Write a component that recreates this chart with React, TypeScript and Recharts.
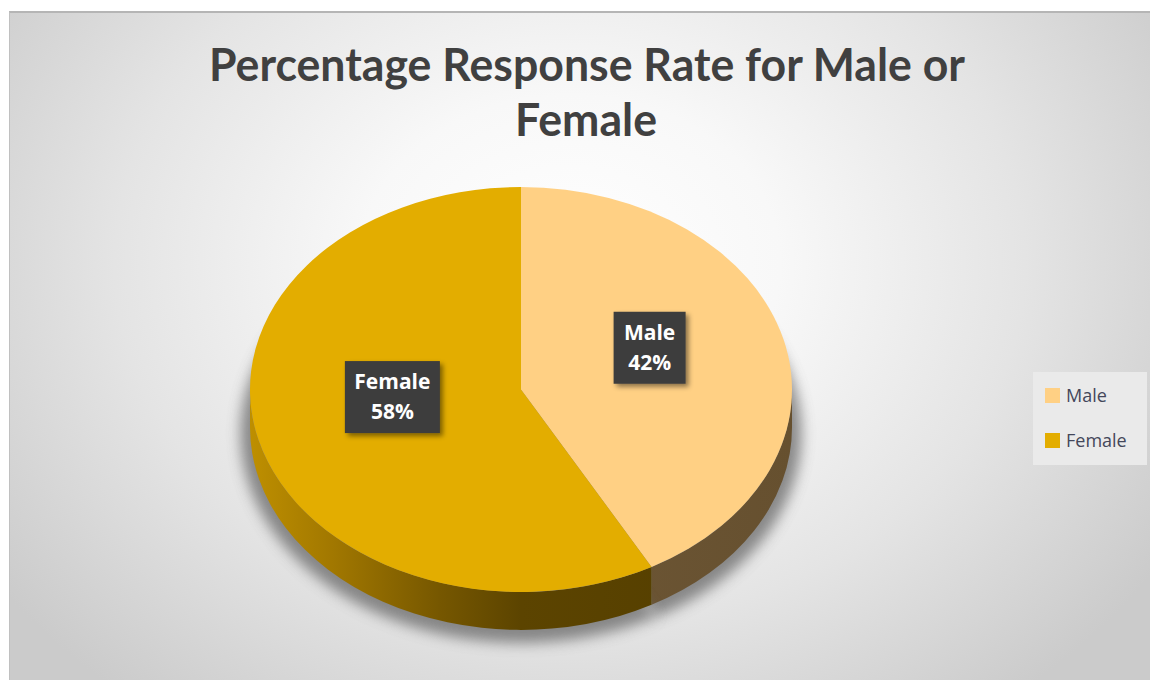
import React from 'react';
import { PieChart, Pie, Cell, Legend } from 'recharts';

const CATEGORIES = ['Male', 'Female'];
const VALUES = [42, 58];
const TITLE_LINES = ['Percentage Response Rate for Male or', 'Female'];

const TOP_COLORS = ['#FFD084', '#E3AD00'];
const SIDE_FILLS = ['url(#sideMale)', 'url(#sideFemale)'];

const data = CATEGORIES.map((name, i) => ({ name, value: VALUES[i] }));

const K = 0.747; // vertical squash of the pie (tilt)
const DEPTH_RATIO = 0.14; // thickness relative to radius
const RAD = Math.PI / 180;

function pt(cx: number, cy: number, rx: number, ry: number, a: number, dy = 0) {
  return [cx + rx * Math.cos(-a * RAD), cy + ry * Math.sin(-a * RAD) + dy];
}

function TopShape(props: any) {
  const { cx, cy, outerRadius, startAngle, endAngle, fill } = props;
  const rx = outerRadius;
  const ry = outerRadius * K;
  const [x1, y1] = pt(cx, cy, rx, ry, startAngle);
  const [x2, y2] = pt(cx, cy, rx, ry, endAngle);
  const large = Math.abs(endAngle - startAngle) > 180 ? 1 : 0;
  const sweep = endAngle < startAngle ? 1 : 0;
  const d = `M${cx},${cy} L${x1},${y1} A${rx},${ry} 0 ${large} ${sweep} ${x2},${y2} Z`;
  return <path d={d} fill={fill} stroke="none" />;
}

function SideShape(props: any) {
  const { cx, cy, outerRadius, startAngle, endAngle, fill } = props;
  const rx = outerRadius;
  const ry = outerRadius * K;
  const depth = outerRadius * DEPTH_RATIO;
  const hi = Math.max(startAngle, endAngle);
  const lo = Math.min(startAngle, endAngle);
  const parts: any[] = [];
  [0, -360, 360].forEach((k) => {
    const a1 = Math.min(hi, 0 + k);
    const a2 = Math.max(lo, -180 + k);
    if (a1 > a2) {
      const [px1, py1] = pt(cx, cy, rx, ry, a1);
      const [px2, py2] = pt(cx, cy, rx, ry, a2);
      const large = a1 - a2 > 180 ? 1 : 0;
      const d = `M${px1},${py1} A${rx},${ry} 0 ${large} 1 ${px2},${py2} L${px2},${py2 + depth} A${rx},${ry} 0 ${large} 0 ${px1},${py1 + depth} Z`;
      parts.push(d);
    }
  });
  // soft shadow derived from the sector
  const srx = rx * 1.035;
  const sry = ry * 1.035;
  const off = depth + 6;
  const [sx1, sy1] = pt(cx, cy, srx, sry, startAngle, off);
  const [sx2, sy2] = pt(cx, cy, srx, sry, endAngle, off);
  const largeS = Math.abs(endAngle - startAngle) > 180 ? 1 : 0;
  const shadowD = `M${cx},${cy + off} L${sx1},${sy1} A${srx},${sry} 0 ${largeS} 1 ${sx2},${sy2} Z`;
  return (
    <g>
      <defs>
        <filter id="pieShadow" x="-20%" y="-20%" width="140%" height="140%">
          <feGaussianBlur stdDeviation="7" />
        </filter>
        <linearGradient id="sideFemale" gradientUnits="userSpaceOnUse" x1={cx - rx} y1={0} x2={cx + rx} y2={0}>
          <stop offset="0" stopColor="#BE8F00" />
          <stop offset="0.15" stopColor="#A27800" />
          <stop offset="0.35" stopColor="#765700" />
          <stop offset="0.5" stopColor="#5C4400" />
          <stop offset="1" stopColor="#523D00" />
        </linearGradient>
        <linearGradient id="sideMale" gradientUnits="userSpaceOnUse" x1={cx} y1={0} x2={cx + rx} y2={0}>
          <stop offset="0" stopColor="#6E5736" />
          <stop offset="1" stopColor="#66502F" />
        </linearGradient>
      </defs>
      <path d={shadowD} fill="#666666" opacity={0.75} filter="url(#pieShadow)" />
      {parts.map((d, i) => (
        <path key={i} d={d} fill={fill} stroke="none" />
      ))}
    </g>
  );
}

function renderLabel(props: any) {
  const { cx, cy, midAngle, outerRadius, name, percent } = props;
  const rx = outerRadius;
  const ry = outerRadius * K;
  const f = 0.49;
  const x = cx + rx * f * Math.cos(-midAngle * RAD);
  const y = cy + ry * f * Math.sin(-midAngle * RAD) - outerRadius * 0.063;
  const w = String(name).length * 11.5 + 26;
  const h = 72;
  const pct = `${Math.round(percent * 100)}%`;
  return (
    <g>
      <defs>
        <filter id="lblShadow" x="-30%" y="-30%" width="160%" height="160%">
          <feDropShadow dx="3" dy="3" stdDeviation="2.5" floodColor="#000" floodOpacity="0.45" />
        </filter>
      </defs>
      <rect x={x - w / 2} y={y - h / 2} width={w} height={h} fill="#3C3C3C" filter="url(#lblShadow)" />
      <text textAnchor="middle" fill="#ffffff" fontFamily="'Open Sans', sans-serif" fontWeight={700} fontSize={21}>
        <tspan x={x} y={y - 8}>{name}</tspan>
        <tspan x={x} y={y + 22}>{pct}</tspan>
      </text>
    </g>
  );
}

function LegendContent(props: any) {
  const payload = props.payload || [];
  const seen: Record<string, any> = {};
  payload.forEach((e: any) => {
    if (!seen[e.value]) seen[e.value] = e;
  });
  const entries = Object.values(seen).sort(
    (a: any, b: any) => CATEGORIES.indexOf(a.value) - CATEGORIES.indexOf(b.value)
  );
  return (
    <div style={{ width: 114, height: 93, background: '#EAEAEA', boxSizing: 'border-box', paddingTop: 16, paddingLeft: 12 }}>
      {entries.map((entry: any, i: number) => (
        <div key={i} style={{ display: 'flex', alignItems: 'center', height: 15, marginBottom: 30 }}>
          <span style={{ display: 'inline-block', width: 15, height: 15, background: TOP_COLORS[CATEGORIES.indexOf(entry.value)] || entry.color, marginRight: 6 }} />
          <span style={{ fontFamily: "'Open Sans', sans-serif", fontSize: 18, color: '#44475A', lineHeight: '15px' }}>{entry.value}</span>
        </div>
      ))}
    </div>
  );
}

export default function App() {
  return (
    <div style={{ position: 'absolute', left: 0, top: 0, width: 1156, height: 680, background: '#ffffff', overflow: 'hidden' }}>
      <div
        style={{
          position: 'absolute',
          left: 9,
          top: 11,
          width: 1141,
          height: 669,
          borderTop: '2px solid #B5B5B5',
          borderLeft: '1px solid #C0C0C0',
          boxSizing: 'border-box',
          background: 'radial-gradient(ellipse 700px 560px at 560px 250px, #ffffff 0%, #f8f8f8 30%, #e4e4e4 65%, #cbcbcb 100%)',
        }}
      />
      <div style={{ position: 'absolute', left: 0, top: 0 }}>
        <PieChart width={1156} height={680} margin={{ top: 0, right: 0, bottom: 0, left: 0 }}>
          <text textAnchor="middle" fill="#404040" fontFamily="Lato, sans-serif" fontWeight={700} fontSize={45}>
            <tspan x={587} y={81} textLength={756} lengthAdjust="spacingAndGlyphs">{TITLE_LINES[0]}</tspan>
            <tspan x={586} y={136} textLength={142} lengthAdjust="spacingAndGlyphs">{TITLE_LINES[1]}</tspan>
          </text>
          <Pie
            data={data}
            dataKey="value"
            nameKey="name"
            cx={521}
            cy={389.5}
            outerRadius={271}
            startAngle={90}
            endAngle={-270}
            isAnimationActive={false}
            legendType="none"
            shape={SideShape}
            activeShape={SideShape}
            stroke="none"
          >
            {data.map((d, i) => (
              <Cell key={d.name} fill={SIDE_FILLS[i]} />
            ))}
          </Pie>
          <Pie
            data={data}
            dataKey="value"
            nameKey="name"
            cx={521}
            cy={389.5}
            outerRadius={271}
            startAngle={90}
            endAngle={-270}
            isAnimationActive={false}
            shape={TopShape}
            activeShape={TopShape}
            label={renderLabel}
            labelLine={false}
            stroke="none"
          >
            {data.map((d, i) => (
              <Cell key={d.name} fill={TOP_COLORS[i]} />
            ))}
          </Pie>
          <Legend
            layout="vertical"
            content={<LegendContent />}
            wrapperStyle={{ position: 'absolute', left: 1033, top: 372, width: 114, height: 93 }}
          />
        </PieChart>
      </div>
    </div>
  );
}
